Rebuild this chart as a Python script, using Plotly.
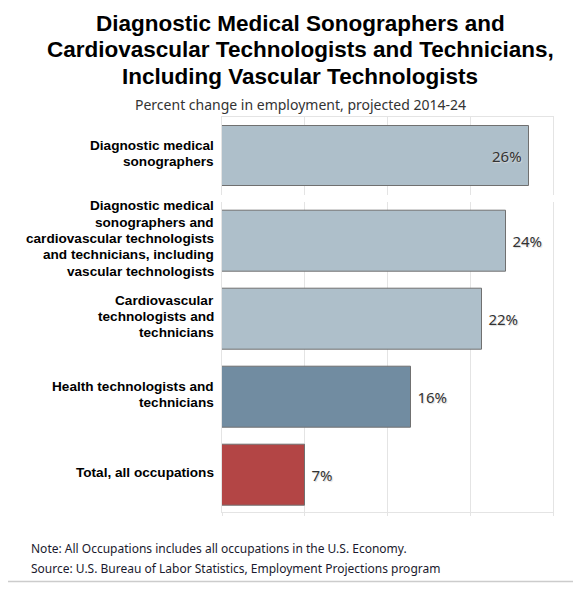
import plotly.graph_objects as go

# data
categories = [
    "Diagnostic medical<br>sonographers",
    "Diagnostic medical<br>sonographers and<br>cardiovascular technologists<br>and technicians, including<br>vascular technologists",
    "Cardiovascular<br>technologists and<br>technicians",
    "Health technologists and<br>technicians",
    "Total, all occupations",
]
pct_change = [26, 24, 22, 16, 7]
bar_colors = ["#aebfca", "#aebfca", "#aebfca", "#718ca1", "#b34545"]
label_pos = ["inside", "outside", "outside", "outside", "outside"]

title_lines = ["Diagnostic Medical Sonographers and",
               "Cardiovascular Technologists and Technicians,",
               "Including Vascular Technologists"]
subtitle = "Percent change in employment, projected 2014-24"
note = "Note: All Occupations includes all occupations in the U.S. Economy."
source = "Source: U.S. Bureau of Labor Statistics, Employment Projections program"

# page body adds an 8px margin, so work in reference pixels minus that
OFF = 8
W, H = 581 - OFF, 589 - OFF
L, R, T, B = 222 - OFF, 581 - 553, 117 - OFF, 589 - 512
PW, PH = W - L - R, H - T - B


def px_x(px):
    return (px - OFF - L) / PW


def px_y(py):
    return (H - B - (py - OFF)) / PH


label_font = dict(family="Noto Sans", size=15, color="#333333",
                  shadow="1px 1px 1px #d8d8d8")
grid = "#e4e4e4"


def bar_text(v, pos):
    return f"{v}% " if pos == "inside" else f" {v}%"


fig = go.Figure()

# top pane: the detailed occupation
fig.add_trace(go.Bar(
    x=pct_change[:1], y=categories[:1], orientation="h",
    marker=dict(color=bar_colors[:1], line=dict(color="#707070", width=1)),
    width=0.78,
    text=[bar_text(v, p) for v, p in zip(pct_change[:1], label_pos[:1])],
    textposition=label_pos[:1], insidetextanchor="end",
    textfont=label_font, insidetextfont=label_font, outsidetextfont=label_font,
    xaxis="x2", yaxis="y2", hoverinfo="skip", cliponaxis=False,
))

# bottom pane: comparison groups
fig.add_trace(go.Bar(
    x=pct_change[1:], y=categories[1:], orientation="h",
    marker=dict(color=bar_colors[1:], line=dict(color="#707070", width=1)),
    width=0.79,
    text=[bar_text(v, p) for v, p in zip(pct_change[1:], label_pos[1:])],
    textposition=label_pos[1:], insidetextanchor="end",
    textfont=label_font, insidetextfont=label_font, outsidetextfont=label_font,
    xaxis="x", yaxis="y", hoverinfo="skip", cliponaxis=False,
))

cat_font = dict(family="Liberation Sans", size=13.6, color="#000000", weight="bold")

annotations = []
for line, yc in zip(title_lines, [23.3, 49.9, 76.6]):
    annotations.append(dict(
        text=f"<b>{line}</b>", x=px_x(300), y=px_y(yc), xref="paper", yref="paper",
        xanchor="center", yanchor="middle", showarrow=False,
        font=dict(family="Liberation Sans", size=22.5, color="#000000")))

# category labels, one line at a time for the tighter line spacing
for i, cat in enumerate(categories):
    lines = cat.split("<br>")
    n = len(lines)
    for j, line in enumerate(lines):
        annotations.append(dict(
            text=line, x=px_x(215.5), xref="paper", xanchor="right",
            y=cat, yref="y2" if i == 0 else "y", yanchor="middle",
            yshift=2.5 - (j - (n - 1) / 2) * 16.3,
            showarrow=False, font=cat_font))

annotations += [
    dict(text=subtitle, x=px_x(300), y=px_y(104), xref="paper", yref="paper",
         xanchor="center", yanchor="middle", showarrow=False,
         font=dict(family="Noto Sans", size=14, color="#333333")),
    dict(text=note, x=px_x(29), y=px_y(548), xref="paper", yref="paper",
         xanchor="left", yanchor="middle", showarrow=False,
         font=dict(family="Noto Sans", size=12, color="#1a1a2e")),
    dict(text=source, x=px_x(29), y=px_y(568), xref="paper", yref="paper",
         xanchor="left", yanchor="middle", showarrow=False,
         font=dict(family="Noto Sans", size=12, color="#1a1a2e")),
]

fig.update_layout(
    width=W, height=H,
    margin=dict(l=L, r=R, t=T, b=B),
    paper_bgcolor="white", plot_bgcolor="white",
    showlegend=False,
    bargap=0,
    xaxis=dict(domain=[0, 1], range=[0, 28], dtick=7, showgrid=True, gridcolor=grid,
               zeroline=False, showticklabels=False, showline=True, linecolor=grid,
               ticks="outside", ticklen=3, tickcolor=grid, anchor="y"),
    xaxis2=dict(domain=[0, 1], range=[0, 28], dtick=7, showgrid=True, gridcolor=grid,
                zeroline=False, showticklabels=False, showline=True, linecolor=grid,
                side="top", anchor="y2", matches="x"),
    yaxis=dict(domain=[0, px_y(201.7)], type="category", range=[3.474, -0.504],
               showgrid=False, zeroline=False, showline=True, mirror=True,
               linecolor=grid, showticklabels=False, anchor="x"),
    yaxis2=dict(domain=[px_y(195), 1], type="category", range=[0.5, -0.5],
                showgrid=False, zeroline=False, showline=True, mirror=True,
                linecolor=grid, showticklabels=False, anchor="x2"),
    annotations=annotations,
    # outer frame: only the right and bottom edges fall inside the page
    shapes=[
        dict(type="line", xref="paper", yref="paper",
             x0=px_x(574.5), x1=px_x(574.5), y0=px_y(581.5), y1=px_y(8),
             line=dict(color="#cccccc", width=1.5)),
        dict(type="line", xref="paper", yref="paper",
             x0=px_x(8), x1=px_x(574.5), y0=px_y(581.5), y1=px_y(581.5),
             line=dict(color="#cccccc", width=1.5)),
    ],
)

fig.write_html("out.html")
